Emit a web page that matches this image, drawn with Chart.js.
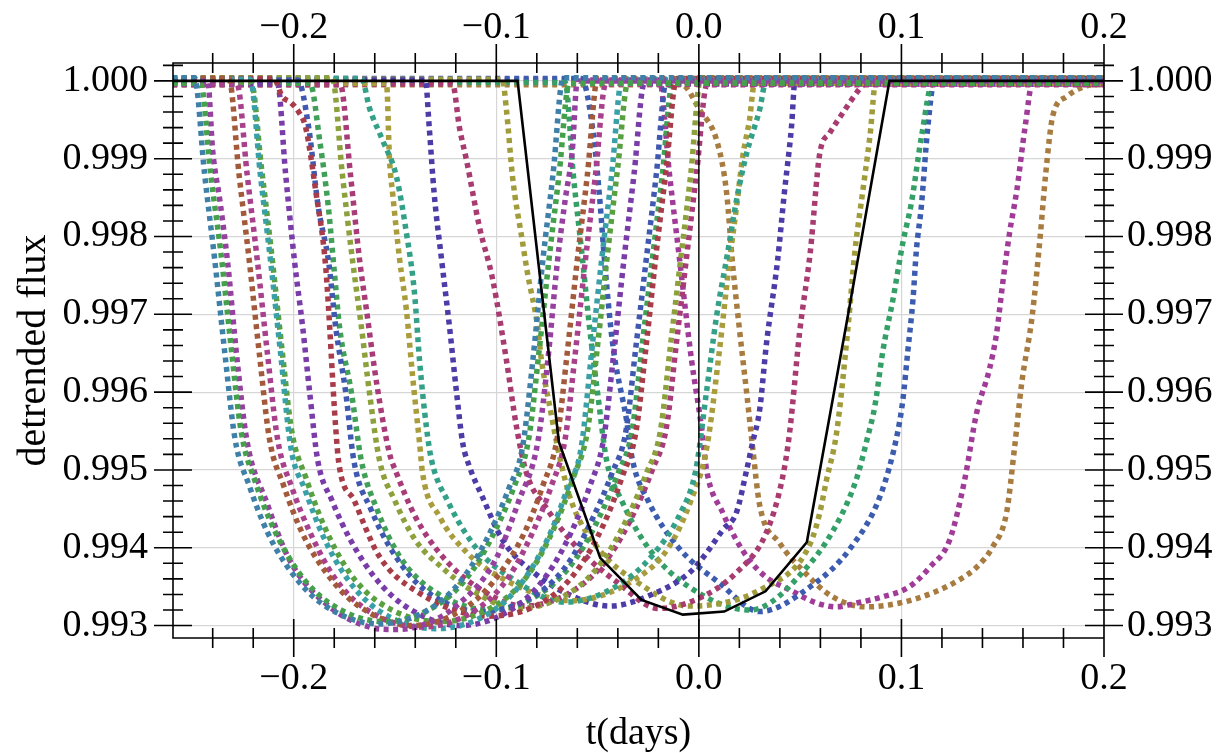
<!DOCTYPE html>
<html>
<head>
<meta charset="utf-8">
<script src="https://cdn.jsdelivr.net/npm/chart.js@4/dist/chart.umd.min.js"></script>
<style>
  html, body { margin: 0; padding: 0; background: #fff; }
  #wrap { width: 1230px; height: 753px; position: relative; }
</style>
</head>
<body>
<div id="wrap"><canvas id="c"></canvas></div>
<script>
/* detrended flux vs t(days): shifted transits (dotted) + reference transit (solid black) */

// axis ranges and tick labels
const xMin = -0.2596, xMax = 0.2;
const yMin = 0.99284, yMax = 1.00023;
const xMajorTicks = [-0.2, -0.1, 0.0, 0.1, 0.2];
const yMajorTicks = [0.993, 0.994, 0.995, 0.996, 0.997, 0.998, 0.999, 1.000];
const zeroLineT = 0.0;

// solid black transit
const blackT = [-0.26, -0.0895, -0.0691, -0.0487, -0.0283, -0.0079, 0.0125, 0.0329, 0.0533, 0.0737, 0.0941, 0.2];
const blackF = [1.0, 1.0, 0.99536, 0.99387, 0.99333, 0.99314, 0.99318, 0.99344, 0.99407, 0.99700, 1.0, 1.0];

// dotted transits, one row per curve (times in days, detrended flux)
const dottedT = [
  [-0.26, -0.249, -0.244, -0.239, -0.234, -0.229, -0.222, -0.213, -0.201, -0.186, -0.158, -0.130, -0.115, -0.103, -0.094, -0.087, -0.082, -0.077, -0.072, -0.067, 0.2],
  [-0.26, -0.246, -0.241, -0.236, -0.231, -0.226, -0.219, -0.210, -0.198, -0.183, -0.155, -0.127, -0.112, -0.100, -0.091, -0.084, -0.079, -0.074, -0.069, -0.064, 0.2],
  [-0.26, -0.2425, -0.2400, -0.2365, -0.2326, -0.2281, -0.2232, -0.2133, -0.2020, -0.1822, -0.1625, -0.1510, -0.1395, -0.1203, -0.1005, -0.0892, -0.0793, -0.0744, -0.0699, -0.0660, -0.0625, -0.0600, 0.2],
  [-0.26, -0.232, -0.227, -0.222, -0.217, -0.212, -0.205, -0.196, -0.184, -0.169, -0.141, -0.113, -0.098, -0.086, -0.077, -0.070, -0.065, -0.060, -0.055, -0.050, 0.2],
  [-0.26, -0.228, -0.223, -0.218, -0.213, -0.208, -0.201, -0.192, -0.180, -0.165, -0.137, -0.109, -0.094, -0.082, -0.073, -0.066, -0.061, -0.056, -0.051, -0.046, 0.2],
  [-0.26, -0.2215, -0.2165, -0.2115, -0.2065, -0.2015, -0.1945, -0.1855, -0.1735, -0.1585, -0.130, -0.101, -0.086, -0.074, -0.065, -0.058, -0.053, -0.048, -0.043, -0.038, 0.2],
  [-0.26, -0.221, -0.216, -0.211, -0.206, -0.201, -0.194, -0.185, -0.173, -0.158, -0.128, -0.098, -0.083, -0.071, -0.062, -0.055, -0.050, -0.045, -0.040, -0.035, 0.2],
  [-0.26, -0.2098, -0.2057, -0.2013, -0.1975, -0.1941, -0.1890, -0.1842, -0.1793, -0.1778, -0.1700, -0.1580, -0.1400, -0.1035, -0.0740, -0.0590, -0.0470, -0.0380, -0.0310, -0.0260, -0.0210, -0.0160, -0.0110, 0.2],
  [-0.26, -0.208, -0.204, -0.1995, -0.1956, -0.1921, -0.1882, -0.181, -0.172, -0.160, -0.145, -0.1175, -0.090, -0.075, -0.063, -0.054, -0.047, -0.042, -0.037, -0.032, -0.027, 0.2],
  [-0.26, -0.198, -0.1926, -0.1880, -0.1827, -0.1793, -0.1743, -0.1704, -0.162, -0.150, -0.135, -0.107, -0.079, -0.064, -0.052, -0.043, -0.036, -0.031, -0.026, -0.021, -0.016, 0.2],
  [-0.26, -0.192, -0.187, -0.1830, -0.1799, -0.1774, -0.1715, -0.1667, -0.159, -0.148, -0.133, -0.1025, -0.076, -0.061, -0.049, -0.040, -0.033, -0.028, -0.023, -0.018, -0.013, 0.2],
  [-0.26, -0.181, -0.176, -0.171, -0.1666, -0.1626, -0.1577, -0.150, -0.140, -0.127, -0.112, -0.090, -0.062, -0.047, -0.035, -0.026, -0.019, -0.014, -0.009, -0.004, 0.001, 0.2],
  [-0.26, -0.177, -0.172, -0.1675, -0.1641, -0.1591, -0.1528, -0.1493, -0.140, -0.127, -0.111, -0.0865, -0.059, -0.044, -0.032, -0.023, -0.016, -0.011, -0.006, -0.001, 0.004, 0.2],
  [-0.26, -0.1665, -0.1626, -0.1562, -0.1493, -0.1444, -0.1404, -0.1379, -0.1345, -0.1320, -0.124, -0.110, -0.092, -0.0665, -0.041, -0.023, -0.009, -0.0015, 0.0037, 0.0087, 0.0142, 0.0186, 0.0236, 0.0300, 0.0335, 0.2],
  [-0.26, -0.1542, -0.1527, -0.1512, -0.1477, -0.1444, -0.1413, -0.1379, -0.1364, -0.128, -0.115, -0.098, -0.063, -0.030, -0.015, -0.004, 0.004, 0.0100, 0.0152, 0.0186, 0.0216, 0.0250, 0.0275, 0.2],
  [-0.26, -0.1350, -0.1331, -0.1307, -0.1270, -0.1231, -0.1196, -0.1166, -0.1132, -0.1068, -0.0969, -0.080, -0.060, -0.044, -0.025, -0.0046, 0.0037, 0.0118, 0.0185, 0.0236, 0.0265, 0.0300, 0.0334, 0.0389, 0.0422, 0.0457, 0.0475, 0.2],
  [-0.26, -0.1216, -0.1182, -0.1147, -0.1083, -0.1018, -0.0950, -0.0900, -0.0851, -0.075, -0.060, -0.040, -0.020, 0.000, 0.0185, 0.0334, 0.0413, 0.0448, 0.0497, 0.0550, 0.0597, 0.0646, 0.0711, 0.0795, 0.0820, 0.2],
  [-0.26, -0.0970, -0.0950, -0.0920, -0.0870, -0.0846, -0.0796, -0.0777, -0.0735, -0.0690, -0.0630, -0.0500, -0.0300, -0.0050, 0.0185, 0.0333, 0.0448, 0.0514, 0.0563, 0.0597, 0.0630, 0.0680, 0.0735, 0.0770, 0.0810, 0.0845, 0.0875, 0.2],
  [-0.26, -0.0660, -0.0620, -0.0574, -0.0540, -0.0500, -0.0456, -0.0380, -0.0250, -0.0050, 0.0250, 0.0550, 0.0700, 0.0780, 0.0833, 0.0868, 0.0909, 0.0958, 0.1007, 0.1049, 0.1100, 0.1155, 0.2],
  [-0.26, -0.0580, -0.0520, -0.0490, -0.0466, -0.0426, -0.0357, -0.0328, -0.0250, -0.0100, 0.0100, 0.0300, 0.0550, 0.0750, 0.0900, 0.0981, 0.1007, 0.1032, 0.1057, 0.1074, 0.1098, 0.1130, 0.1165, 0.2],
  [-0.26, -0.0195, -0.0145, -0.0095, -0.0036, 0.0013, 0.0038, 0.0118, 0.0185, 0.0250, 0.0333, 0.0448, 0.0581, 0.0680, 0.0779, 0.0908, 0.1040, 0.1140, 0.1238, 0.1312, 0.1371, 0.1435, 0.1470, 0.1500, 0.1534, 0.1570, 0.1610, 0.1650, 0.2],
  [-0.26, -0.0085, 0.0003, 0.0092, 0.0137, 0.0166, 0.0199, 0.0236, 0.0265, 0.0300, 0.0399, 0.0512, 0.0660, 0.0828, 0.0991, 0.1154, 0.1287, 0.1371, 0.1450, 0.1519, 0.1559, 0.1594, 0.1645, 0.1685, 0.1712, 0.1747, 0.1816, 0.1895, 0.1954, 0.2]
];
const dottedF = [
  [1.00004, 1.00004, 0.9988, 0.9977, 0.9965, 0.9954, 0.9948, 0.9942, 0.99368, 0.99328, 0.99302, 0.99326, 0.99366, 0.9942, 0.99475, 0.9953, 0.9964, 0.9977, 0.9988, 1.00004, 1.00004],
  [0.99997, 0.99997, 0.9988, 0.9978, 0.9966, 0.9955, 0.99485, 0.99425, 0.9937, 0.9933, 0.99305, 0.9933, 0.9937, 0.99425, 0.9948, 0.9954, 0.9965, 0.9977, 0.9988, 0.99997, 0.99997],
  [1.0, 1.0, 0.9991, 0.99847, 0.99766, 0.99645, 0.99539, 0.99458, 0.99384, 0.99324, 0.99298, 0.99295, 0.99298, 0.99324, 0.99384, 0.99458, 0.99539, 0.99645, 0.99766, 0.99847, 0.9991, 1.0, 1.0],
  [1.00003, 1.00003, 0.9988, 0.9977, 0.9965, 0.9954, 0.9948, 0.9942, 0.99368, 0.99327, 0.99300, 0.99327, 0.99368, 0.9942, 0.9948, 0.9954, 0.9965, 0.9977, 0.9988, 1.00003, 1.00003],
  [0.99996, 0.99996, 0.9988, 0.9977, 0.9965, 0.9954, 0.99478, 0.9942, 0.99362, 0.99322, 0.99298, 0.99322, 0.99362, 0.9942, 0.99478, 0.9954, 0.9965, 0.9977, 0.9988, 0.99996, 0.99996],
  [1.00002, 1.00002, 0.9988, 0.9977, 0.9965, 0.9953, 0.99475, 0.99415, 0.9936, 0.9932, 0.99296, 0.9932, 0.9936, 0.99415, 0.99475, 0.9953, 0.9965, 0.9977, 0.9988, 1.00002, 1.00002],
  [0.99998, 0.99998, 0.9989, 0.9978, 0.9966, 0.9955, 0.9949, 0.99428, 0.9937, 0.9933, 0.99305, 0.9933, 0.9937, 0.99428, 0.9949, 0.9955, 0.9966, 0.9978, 0.9989, 0.99998, 0.99998],
  [1.00003, 1.00003, 0.9998, 0.99972, 0.9996, 0.9994, 0.99856, 0.9976, 0.99555, 0.9951, 0.9946, 0.9939, 0.99345, 0.99312, 0.99335, 0.99375, 0.9943, 0.9949, 0.9955, 0.9966, 0.9978, 0.9989, 1.00003, 1.00003],
  [0.99996, 0.99996, 0.9988, 0.99766, 0.99684, 0.99599, 0.99513, 0.9946, 0.9941, 0.99362, 0.99325, 0.99300, 0.99325, 0.99365, 0.9942, 0.99478, 0.9954, 0.9965, 0.9977, 0.9988, 0.99996, 0.99996],
  [1.00001, 1.00001, 0.9994, 0.9984, 0.99766, 0.99684, 0.99599, 0.99513, 0.9945, 0.9939, 0.99345, 0.99318, 0.99342, 0.99382, 0.9944, 0.99495, 0.9955, 0.9966, 0.9977, 0.9988, 1.00001, 1.00001],
  [0.99997, 0.99997, 0.9992, 0.9984, 0.99753, 0.99684, 0.99599, 0.99513, 0.9945, 0.9939, 0.99348, 0.9932, 0.99345, 0.99385, 0.9944, 0.99495, 0.9955, 0.9966, 0.9977, 0.9988, 0.99997, 0.99997],
  [1.00004, 1.00004, 0.9988, 0.9977, 0.99684, 0.99599, 0.99513, 0.9946, 0.9941, 0.99375, 0.99345, 0.99322, 0.99345, 0.99385, 0.9944, 0.99495, 0.9955, 0.9966, 0.9977, 0.9988, 1.00004, 1.00004],
  [0.99995, 0.99995, 0.9988, 0.9977, 0.99706, 0.99612, 0.99522, 0.99496, 0.9944, 0.9939, 0.99352, 0.99325, 0.9935, 0.9939, 0.99445, 0.995, 0.99555, 0.99665, 0.99775, 0.99885, 0.99995, 0.99995],
  [1.00003, 1.00003, 0.99965, 0.99924, 0.99877, 0.99805, 0.99728, 0.99641, 0.99555, 0.99513, 0.9946, 0.9940, 0.9936, 0.9933, 0.9935, 0.9939, 0.99445, 0.9950, 0.99599, 0.99697, 0.99779, 0.99847, 0.99907, 0.99963, 1.00003, 1.00003],
  [0.99997, 0.99997, 0.99898, 0.99856, 0.9977, 0.99706, 0.9962, 0.99535, 0.99496, 0.9944, 0.99395, 0.99362, 0.99332, 0.99362, 0.994, 0.9946, 0.9953, 0.9965, 0.9977, 0.99838, 0.99902, 0.9995, 0.99997, 0.99997],
  [1.00001, 1.00001, 0.9994, 0.99856, 0.9977, 0.99684, 0.99599, 0.99535, 0.99504, 0.99465, 0.9941, 0.99365, 0.99335, 0.99325, 0.99338, 0.99368, 0.99393, 0.99423, 0.99445, 0.995, 0.99535, 0.99577, 0.99663, 0.9977, 0.99856, 0.9994, 1.00001, 1.00001],
  [0.99996, 0.99996, 0.9994, 0.99898, 0.99812, 0.99745, 0.99641, 0.99555, 0.99496, 0.9945, 0.994, 0.99355, 0.99322, 0.99335, 0.99368, 0.9942, 0.9949, 0.99548, 0.99676, 0.9978, 0.99907, 0.99933, 0.99959, 0.9999, 0.99996, 0.99996],
  [1.00002, 1.00002, 0.99963, 0.99877, 0.99792, 0.99753, 0.99684, 0.99641, 0.9958, 0.9952, 0.9946, 0.994, 0.99355, 0.99325, 0.99333, 0.9935, 0.99368, 0.99388, 0.99414, 0.99445, 0.99487, 0.99548, 0.9968, 0.9978, 0.9986, 0.9993, 1.00002, 1.00002],
  [0.99998, 0.99998, 0.9988, 0.9977, 0.99684, 0.99599, 0.99513, 0.9946, 0.994, 0.9935, 0.9932, 0.9938, 0.9944, 0.9949, 0.99542, 0.99581, 0.99654, 0.99719, 0.99792, 0.99843, 0.9993, 0.99998, 0.99998],
  [1.00003, 1.00003, 0.9993, 0.9985, 0.9977, 0.99663, 0.99564, 0.99513, 0.9946, 0.994, 0.99355, 0.99318, 0.9935, 0.994, 0.9947, 0.99548, 0.9959, 0.99654, 0.99719, 0.99783, 0.99838, 0.9994, 1.00003, 1.00003],
  [1.00001, 1.00001, 0.9988, 0.9977, 0.99641, 0.99555, 0.9950, 0.99445, 0.9941, 0.99384, 0.99362, 0.99346, 0.99329, 0.99324, 0.99329, 0.99337, 0.9935, 0.99375, 0.9941, 0.99487, 0.99573, 0.9963, 0.99676, 0.9974, 0.99805, 0.9986, 0.9994, 1.00001, 1.00001],
  [0.99995, 0.99995, 0.99963, 0.9992, 0.99856, 0.99766, 0.99684, 0.99599, 0.9953, 0.99455, 0.99406, 0.99371, 0.99337, 0.99324, 0.99329, 0.99342, 0.99359, 0.99375, 0.99401, 0.99445, 0.9953, 0.99612, 0.99697, 0.998, 0.9988, 0.99955, 0.9998, 0.99992, 0.99995, 0.99995]
];
const dottedColors = [
  '#3f80a8', '#44a04a', '#9640a0', '#a35a3a', '#a8408c', '#3aa0a8', '#58a040', '#a83c48',
  '#7a3ca8', '#4058b0', '#40a058', '#8ca03c', '#a83c78', '#34a088', '#a89c3c', '#4c3ca8',
  '#a83c70', '#a09c3c', '#34a068', '#3c5cb0', '#a03c98', '#a87c40'
];

const serif = "'Liberation Serif', 'Times New Roman', serif";
const fmtX = v => (v < -1e-9 ? '\u2212' : '') + Math.abs(v).toFixed(1);
const fmtY = v => v.toFixed(3);

const datasets = [];
datasets.push({
  data: blackT.map((t, i) => ({ x: t, y: blackF[i] })),
  borderColor: '#000', borderWidth: 2.6, tension: 0, pointRadius: 0
});
datasets.push({
  data: [{ x: zeroLineT, y: yMin }, { x: zeroLineT, y: yMax }],
  borderColor: '#000', borderWidth: 1.4, pointRadius: 0
});
dottedT.forEach((ts, k) => {
  datasets.push({
    data: ts.map((t, i) => ({ x: t, y: dottedF[k][i] })),
    borderColor: dottedColors[k], borderWidth: 5.5, borderDash: [5, 4.5],
    cubicInterpolationMode: 'monotone', pointRadius: 0
  });
});

// frame + crossing tick marks (major and minor) on all four sides
const frameTicks = {
  id: 'frameTicks',
  afterDatasetsDraw(chart) {
    const { ctx, chartArea: a, scales } = chart;
    const xs = scales.x, ys = scales.y;
    const seg = (x1, y1, x2, y2) => { ctx.moveTo(x1, y1); ctx.lineTo(x2, y2); };
    ctx.save();
    ctx.strokeStyle = '#000';
    ctx.lineWidth = 1.6;
    ctx.beginPath();
    ctx.rect(a.left, a.top, a.right - a.left, a.bottom - a.top);
    for (let k = -12; k <= 10; k++) {
      const v = k * 0.02;
      if (v < xMin - 1e-9 || v > xMax + 1e-9) continue;
      const px = xs.getPixelForValue(v);
      const len = (k % 5 === 0) ? 19 : 10;
      seg(px, a.bottom - len, px, a.bottom + len);
      seg(px, a.top - len, px, a.top + len);
    }
    for (let k = 4964; k <= 5001; k++) {
      const v = k * 0.0002;
      if (v < yMin - 1e-9 || v > yMax + 1e-9) continue;
      const py = ys.getPixelForValue(v);
      const len = (k % 5 === 0) ? 19 : 10;
      seg(a.left - len, py, a.left + len, py);
      seg(a.right - len, py, a.right + len, py);
    }
    ctx.stroke();
    ctx.restore();
  }
};

const tickFont = { family: serif, size: 38 };
const setTicks = list => scale => { scale.ticks = list.map(v => ({ value: v })); };

new Chart(document.getElementById('c'), {
  type: 'line',
  data: { datasets },
  options: {
    responsive: true,
    maintainAspectRatio: false,
    animation: false,
    layout: { padding: 0 },
    plugins: { legend: { display: false }, tooltip: { enabled: false } },
    scales: {
      x: {
        type: 'linear', position: 'bottom', min: xMin, max: xMax,
        afterBuildTicks: setTicks(xMajorTicks),
        afterFit: s => { s.height = 115; },
        border: { display: false },
        grid: { color: '#d6d6d6', lineWidth: 1.2, drawTicks: false },
        ticks: { font: tickFont, color: '#000', padding: 18, maxRotation: 0, autoSkip: false, callback: v => fmtX(v) },
        title: { display: true, text: 't(days)', color: '#000', font: { family: serif, size: 38, lineHeight: 1.0 }, padding: { top: 0, bottom: 0 } }
      },
      x2: {
        type: 'linear', position: 'top', min: xMin, max: xMax,
        afterBuildTicks: setTicks(xMajorTicks),
        afterFit: s => { s.height = 63; },
        border: { display: false },
        grid: { display: false, drawTicks: false },
        ticks: { font: tickFont, color: '#000', padding: 12, maxRotation: 0, autoSkip: false, callback: v => fmtX(v) }
      },
      y: {
        type: 'linear', position: 'left', min: yMin, max: yMax,
        afterBuildTicks: setTicks(yMajorTicks),
        afterFit: s => { s.width = 173; },
        border: { display: false },
        grid: { color: '#d6d6d6', lineWidth: 1.2, drawTicks: false },
        ticks: { font: tickFont, color: '#000', padding: 25, autoSkip: false, callback: v => fmtY(v) },
        title: { display: true, text: 'detrended flux', color: '#000', font: { family: serif, size: 40, lineHeight: 1.0 }, padding: { top: 14, bottom: 0 } }
      },
      y2: {
        type: 'linear', position: 'right', min: yMin, max: yMax,
        afterBuildTicks: setTicks(yMajorTicks),
        afterFit: s => { s.width = 126; },
        border: { display: false },
        grid: { display: false, drawTicks: false },
        ticks: { font: tickFont, color: '#000', padding: 23, autoSkip: false, callback: v => fmtY(v) }
      }
    }
  },
  plugins: [frameTicks]
});
</script>
</body>
</html>
